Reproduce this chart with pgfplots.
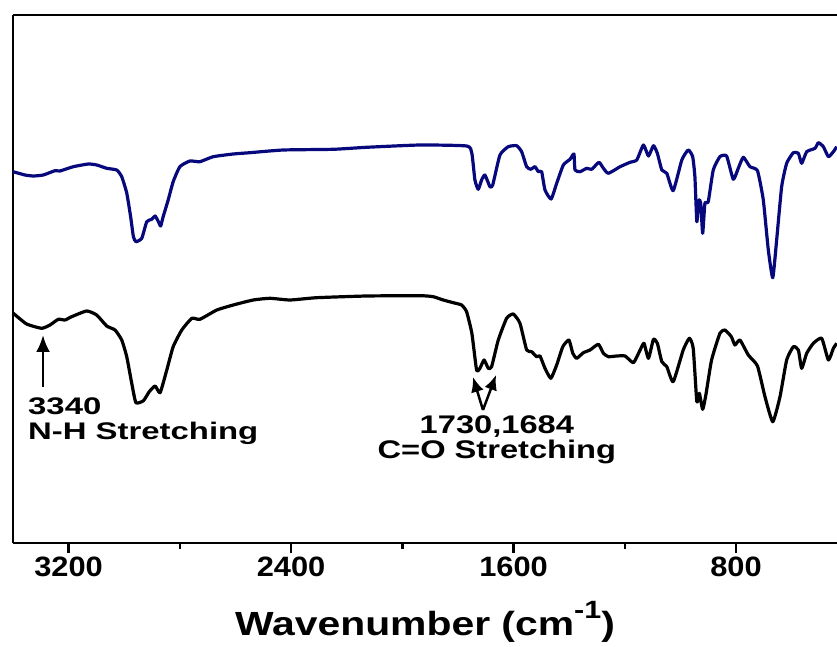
\documentclass[border=0pt]{standalone}
\usepackage{pgfplots}
\pgfplotsset{compat=1.18}
\usepackage{graphicx}
\usepackage{fontspec}
\setmainfont{Liberation Sans}
\usetikzlibrary{arrows.meta}
\definecolor{irblue}{RGB}{8,8,125}

\begin{document}
\begin{tikzpicture}
\begin{axis}[
  scale only axis,
  width=824pt, height=528pt,
  x dir=reverse,
  xmin=437, xmax=3400,
  ymin=0, ymax=528,
  axis x line*=box,
  axis y line*=left,
  axis line style={line width=2.8pt, black},
  ytick=\empty,
  xtick={800,1600,2400,3200},
  xticklabels={\scalebox{1.1}[1]{800},\scalebox{1.1}[1]{1600},\scalebox{1.1}[1]{2400},\scalebox{1.1}[1]{3200}},
  minor xtick={1200,2000,2800},
  xtick pos=bottom,
  tick align=outside,
  major tick length=10pt,
  minor tick length=6pt,
  every tick/.style={black, line width=2.5pt},
  xticklabel style={font=\bfseries\fontsize{28}{30}\selectfont},
  xlabel={\scalebox{1.22}[1]{Wavenumber (cm\raisebox{0.5em}{\fontsize{25}{25}\selectfont -1})}},
  xlabel style={font=\bfseries\fontsize{33.5}{36}\selectfont,
    at={(axis description cs:0.5,0)}, anchor=base, yshift=-92pt},
  clip=false,
]
% upper spectrum (blue)
\addplot[irblue, line width=3.2pt, line join=round, smooth, tension=0.3] coordinates {
(3400,371.3)(3357,368)(3327,367)(3291,368)(3249,372.3)(3231,372)(3183,376.3)
(3129,379)(3099,378)(3063,374.7)(3027,373)(3009,366.3)(2991,350)(2977,326.3)
(2967,306.3)(2958,301.3)(2937,304.7)(2919,321.3)(2901,323.7)(2889,327)
(2877,321.3)(2869,317)(2860,326.3)(2842,343)(2824,361.3)(2800,376.3)
(2764,382)(2728,381.3)(2680,386.3)(2608,389)(2548,390.3)(2428,393)
(2248,393.7)(2128,395.7)(1936,398)(1768,397)(1750,389.7)(1739,363)
(1727,353.7)(1715,363)(1703,368)(1685,356.3)(1675,358)(1649,388)
(1619,396.3)(1589,397.3)(1571,391.3)(1553,376.3)(1538,373.7)(1523,376.3)
(1511,371.3)(1499,371.3)(1487,353)(1465,344)(1445,359.7)(1421,378)
(1397,383.7)(1383,389)(1379,373)(1361,371.3)(1337,374.7)(1319,373.7)
(1293,380.7)(1277,374.7)(1259,369.7)(1217,376.3)(1181,380.7)(1157,383)
(1133,398)(1115,387)(1097,397.3)(1083,389.7)(1067,373)(1049,369.7)
(1026,352.3)(995,383)(972,393)(956,386.3)(948,366.3)(941,321.3)(934,343)
(927,339.7)(920,309.7)(912,339.7)(900,341.3)(882,373)(858,386.3)(834,387)
(810,363.7)(792,374.7)(774,385.7)(750,376.3)(723,372.3)(702,343)(684,293)
(668,265.3)(654,303)(636,356.3)(618,379.7)(594,390.3)(576,389.7)(564,379.7)
(546,391.3)(516,394.7)(504,400.3)(486,396.3)(468,386.3)(450,391.3)(438,396.3)
};
% lower spectrum (black)
\addplot[black, line width=3.2pt, line join=round, smooth, tension=0.3] coordinates {
(3400,230)(3351,219)(3297,214.7)(3267,218)(3237,223.7)(3213,223)(3189,226.3)
(3135,232)(3099,228)(3063,217)(3033,213)(3009,203)(2991,186.3)(2973,159.7)
(2958,140.3)(2931,142.3)(2910,151.3)(2889,157)(2871,150.3)(2847,173)
(2824,196.3)(2793,213)(2757,224.7)(2728,223.7)(2667,233)(2608,238)
(2536,243)(2476,244.7)(2404,243)(2308,245.3)(2128,247)(1936,247.3)
(1889,246.3)(1853,243)(1817,240.3)(1787,238)(1769,231.3)(1750,209.7)
(1733,173)(1721,174.7)(1706,183)(1691,174.7)(1679,176.3)(1655,203)
(1625,224.7)(1601,229)(1577,219.7)(1553,193)(1535,191.3)(1517,186.3)
(1505,187)(1487,174.7)(1466,164.7)(1445,178)(1423,196.3)(1401,203)
(1387,189.7)(1373,184.7)(1349,190.3)(1325,193)(1295,198.7)(1277,189.7)
(1259,186.3)(1229,187)(1199,187)(1169,180.3)(1145,193)(1131,199.7)
(1115,184.7)(1097,203.7)(1083,199.7)(1067,181.3)(1049,176.3)(1026,161.3)
(990,193)(968,204.7)(954,194.7)(941,141.3)(932,149.7)(920,133.7)(908,149)
(888,183)(858,209.7)(840,213)(817,206.3)(804,198)(786,203)(756,188)
(723,177)(696,146.3)(668,121.3)(642,146.3)(618,183)(594,196.3)(576,193)
(564,174.7)(546,189.7)(522,199.7)(492,204.7)(468,183)(450,194.7)(438,199.7)
};
% annotations
\draw[line width=2.8pt, -{Latex[length=17pt, width=14pt]}] (axis cs:3292,156) -- (axis cs:3292,208);
\draw[line width=2.5pt, -{Latex[length=15pt, width=13pt]}] (axis cs:1710,133) -- (axis cs:1746,166);
\draw[line width=2.5pt, -{Latex[length=15pt, width=13pt]}] (axis cs:1710,133) -- (axis cs:1663,168);
\node[anchor=north west, inner sep=0pt, font=\bfseries\fontsize{24}{23}\selectfont]
  at (axis cs:3346,145) {\scalebox{1.37}[1]{\begin{tabular}{@{}l@{}}3340\\N-H Stretching\end{tabular}}};
\node[anchor=north, inner sep=0pt, font=\bfseries\fontsize{25.5}{23.5}\selectfont]
  at (axis cs:1660,128) {\scalebox{1.28}[1]{\begin{tabular}{@{}c@{}}1730,1684\\C=O Stretching\end{tabular}}};
\end{axis}
\pgfresetboundingbox
\useasboundingbox (current axis.south west) ++(-13pt,-104pt) rectangle ++(837pt,647pt);
\end{tikzpicture}
\end{document}
